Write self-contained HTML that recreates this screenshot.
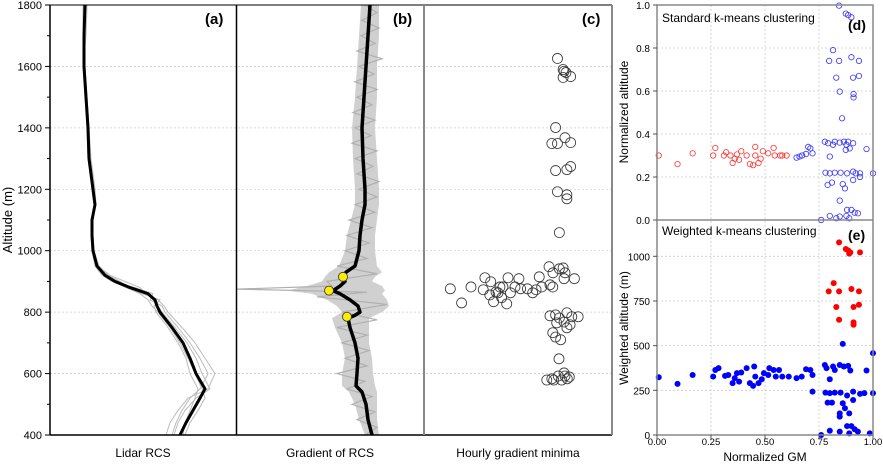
<!DOCTYPE html>
<html><head><meta charset="utf-8">
<style>
body{margin:0;background:#fff;}
svg{display:block;font-family:"Liberation Sans",Arial,sans-serif;}
</style></head>
<body>
<svg id="c" width="883" height="464" viewBox="0 0 883 464" xmlns="http://www.w3.org/2000/svg"></svg>
<script>
// ---------- data ----------
const altA=[1800,1700,1600,1500,1400,1300,1200,1150,1100,1050,1000,950,920,900,880,860,840,820,800,750,700,650,600,550,520,480,440,400];
const rcsMean=[35,34,34,36,38,39,43,45,42,42,43,47,55,65,80,98,105,107,110,122,133,140,146,155,150,143,136,130];
const rcsG1=[33,33,35,37,39,41,45,46,41,41,42,45,52,62,85,103,100,112,115,128,140,150,158,150,140,132,126,122];
const rcsG2=[37,36,33,35,37,38,42,44,43,43,44,49,58,70,78,92,110,104,106,118,128,136,140,148,145,140,135,133];
const rcsG3=[34,35,35,37,39,40,44,46,42,42,43,46,54,66,82,100,103,108,112,125,137,146,152,160,146,135,128,124];
const rcsG4=[36,34,34,35,38,39,42,44,43,42,44,48,60,75,90,96,108,114,118,132,145,155,165,158,138,128,120,116];
const rcsG5=[35,35,34,36,37,38,43,45,41,42,43,46,53,63,76,90,98,102,108,120,130,138,145,152,155,148,140,135];
const altB=[1800,1700,1600,1500,1400,1300,1200,1150,1100,1050,1000,950,930,915,900,885,870,860,840,820,800,790,780,750,700,650,600,560,540,500,450,400];
const gradMean=[133,131,129,127,125,126,128,128,125,123,122,118,109,106,108,103,96,103,113,121,123,118,111,113,118,121,120,119,125,129,131,135];
const bandLo=[124,122,120,118,115,116,118,118,114,110,108,102,92,88,85,70,50,75,90,100,105,100,95,98,105,108,105,105,112,118,122,128];
const bandHi=[142,142,140,140,138,140,142,142,140,138,138,140,145,138,135,145,148,145,150,152,145,138,132,132,132,135,136,138,140,140,140,142];
const altG=[1800,1775,1750,1725,1700,1675,1650,1625,1600,1575,1550,1525,1500,1475,1450,1425,1400,1375,1350,1325,1300,1275,1250,1225,1200,1175,1150,1125,1100,1075,1050,1025,1000,975,950,925,900,885,875,865,850,825,800,775,750,725,700,675,650,625,600,575,550,525,500,475,450,425,400];
const gradNoise=[128,140,125,142,124,138,120,145,122,137,118,140,120,135,116,138,118,134,115,140,118,136,120,142,122,140,118,138,112,135,110,132,108,130,100,140,90,95,0,130,80,150,105,140,100,130,105,132,108,130,100,128,110,135,115,138,120,140,128];
const minAlt=[915,870,785];
const minVal=[106,92,110];
const hX=[71,74,74.5,75.5,74,78,70,68,71,75,78,70,76,78,71,76,76,72,66.5,68.6,72,74,75,80,74.5,67,68.5,14,20,25,32.4,31.5,35.5,37,40.4,39.4,44.7,42,41.3,44,46,48.4,50.5,51.4,55,57.8,59.6,62.6,61.3,38.3,35,67,70,76,78.6,82,70.6,74.5,77.7,76,68.5,70,72.7,72,71.8,74.5,77.3,76.2,68,65.3,69,73.2,71.4,75];
const hAlt=[1626,1590,1584,1580,1564,1567,1401,1349,1349,1368,1352,1261,1264,1274,1192,1182,1169,1059,948,928,941,944,928,909,909,889,882,876,830,882,912,873,899,834,882,863,912,882,847,827,863,882,909,876,876,863,873,882,915,866,856,788,791,798,785,785,765,768,759,749,733,719,710,781,648,602,589,583,583,579,579,579,592,592];
const dRedX=[.008,.095,.165,.26,.27,.31,.32,.34,.35,.36,.37,.38,.39,.415,.43,.445,.455,.455,.47,.48,.49,.515,.54,.545,.57,.58,.60];
const dRedY=[.30,.26,.31,.30,.335,.30,.315,.30,.265,.285,.305,.28,.32,.30,.26,.255,.34,.30,.265,.285,.32,.31,.335,.30,.30,.30,.30];
const dBlueX=[.646,.66,.672,.69,.70,.71,.72,.777,.792,.80,.815,.823,.846,.865,.877,.885,.874,.892,.908,.97,.78,.80,.823,.85,.88,.908,.92,.94,1.0,.79,.81,.86,.87,.908,.94,.846,.76,.8,.846,.877,.88,.9,.915,.93,.89,.83,.815,.797,.843,.9,.935,.83,.908,.935,.846,.91,.91,.857,.843,.874,.885,.9];
const dBlueY=[.29,.295,.30,.307,.34,.333,.31,.364,.357,.295,.35,.364,.36,.364,.35,.364,.326,.333,.357,.33,.22,.217,.22,.22,.217,.225,.217,.217,.217,.163,.174,.167,.147,.186,.2,.09,0,.019,.016,.019,.047,.047,.034,.031,.008,.008,.79,.74,.74,.757,.74,.662,.662,.67,.597,.586,.57,.473,.997,.96,.953,.943];
const eRedX=[.843,.874,.885,.895,.89,.94,.818,.795,.843,.9,.935,.83,.91,.935,.843,.91,.91];
const eRedY=[1078,1041,1033,1022,1015,1022,850,804,804,817,804,716,716,729,645,630,617];
const eBlueX=[.008,.095,.165,.26,.27,.285,.315,.33,.35,.36,.37,.38,.39,.415,.43,.445,.45,.455,.47,.485,.495,.515,.52,.54,.55,.565,.58,.61,.646,.67,.69,.71,.72,.72,.777,.80,.785,.815,.823,.846,.865,.885,.895,.86,.97,1.0,.78,.8,.823,.85,.88,.908,.94,.96,1.0,.79,.81,.86,.87,.908,.846,.846,.89,.76,.8,.846,.88,.9,.915,.93,.89,.985];
const eBlueY=[323,286,336,327,364,374,331,336,290,318,346,299,350,374,290,275,383,327,290,312,346,336,374,364,327,364,327,327,318,327,368,364,336,243,392,312,374,383,364,392,383,387,361,510,361,458,237,234,237,237,221,243,230,234,234,181,181,178,150,196,103,121,121,0,24,19,50,50,32,19,9,9];
const yTicksL=[400,600,800,1000,1200,1400,1600,1800];
const yTicksD=["0.0","0.2","0.4","0.6","0.8","1.0"];
const yTicksE=[0,250,500,750,1000];
const xTicksDE=["0.00","0.25","0.50","0.75","1.00"];

// ---------- helpers ----------
const svg=document.getElementById('c');
const NS='http://www.w3.org/2000/svg';
function mk(tag,attrs,parent){const e=document.createElementNS(NS,tag);for(const k in attrs)e.setAttribute(k,attrs[k]);(parent||svg).appendChild(e);return e;}
function txt(s,x,y,attrs){const e=mk('text',Object.assign({x:x,y:y},attrs||{}));e.textContent=s;return e;}

const yL=a=>435-(a-400)*(430/1400);
const xA=v=>50+v, xB=v=>237+v, xC=p=>424+p*1.88;
const xR=v=>657+v*216;
const yD=v=>220-v*215;
const yE=v=>435-v*0.1787;

for(const t of yTicksL){ if(t===400||t===1800)continue;
 const g=mk('line',{x1:50,x2:612,y1:yL(t),y2:yL(t),stroke:'#ccc','stroke-dasharray':'2,2','stroke-width':0.8});
 
 
}
[rcsG1,rcsG2,rcsG3,rcsG4,rcsG5].forEach((arr,i)=>{
 const p=mk('polyline',{points:arr.map((v,j)=>xA(v)+','+yL(altA[j])).join(' '),fill:'none',stroke:'#bbb','stroke-width':1});
 
 
});
const pm=mk('polyline',{points:rcsMean.map((v,j)=>xA(v)+','+yL(altA[j])).join(' '),fill:'none',stroke:'#000','stroke-width':3,'stroke-linejoin':'round'});


// panel b band
const bandPts=bandLo.map((v,j)=>xB(v)+','+yL(altB[j])).concat(bandHi.map((v,j)=>xB(v)+','+yL(altB[j])).reverse()).join(' ');
const band=mk('polygon',{points:bandPts,fill:'#d0d0d0',stroke:'none'});


const gn=mk('polyline',{points:gradNoise.map((v,j)=>xB(v)+','+yL(altG[j])).join(' '),fill:'none',stroke:'#b0b0b0','stroke-width':1.2});


const gm=mk('polyline',{points:gradMean.map((v,j)=>xB(v)+','+yL(altB[j])).join(' '),fill:'none',stroke:'#000','stroke-width':3.5,'stroke-linejoin':'round'});


minAlt.forEach((a,i)=>{
 const c=mk('circle',{cx:xB(minVal[i]),cy:yL(a),r:4.5,fill:'#ffee00',stroke:'#333','stroke-width':0.8});
 
 
});
hX.forEach((x,i)=>{
 const c=mk('circle',{cx:xC(x),cy:yL(hAlt[i]),r:5,fill:'none',stroke:'#333','stroke-width':0.8});
 
 
});
const fr=mk('g',{});


mk('line',{x1:50,x2:50,y1:5,y2:435,stroke:'#000','stroke-width':1.5},fr);
mk('line',{x1:50,x2:612,y1:435,y2:435,stroke:'#000','stroke-width':1.5},fr);
mk('line',{x1:50,x2:612,y1:5,y2:5,stroke:'#000','stroke-width':1},fr);
mk('line',{x1:236.5,x2:236.5,y1:5,y2:435,stroke:'#000','stroke-width':1.5},fr);
mk('line',{x1:424,x2:424,y1:5,y2:435,stroke:'#888','stroke-width':2},fr);
mk('line',{x1:612,x2:612,y1:5,y2:435,stroke:'#888','stroke-width':2},fr);
for(let a=400;a<=1800;a+=100){
 mk('line',{x1:50,x2:a%200===0?45:47,y1:yL(a),y2:yL(a),stroke:'#000','stroke-width':1});
}
yTicksL.forEach(t=>{
 const e=txt(String(t),42,yL(t)+4,{'font-size':11,'text-anchor':'end',fill:'#000'});
 
 
});
let e=txt('Altitude (m)',0,0,{'font-size':13,'text-anchor':'middle',transform:'translate(12,220) rotate(-90)'});


[['(a)',205],['(b)',393],['(c)',582]].forEach(([s,x])=>{
 const t=txt(s,x,24,{'font-size':15,'font-weight':'bold'});
 
 
});
[['Lidar RCS',143],['Gradient of RCS',330],['Hourly gradient minima',518]].forEach(([s,x])=>{
 const t=txt(s,x,457,{'font-size':12,'text-anchor':'middle'});
 
 
});

[0.25,0.5,0.75].forEach(v=>{
 mk('line',{x1:xR(v),x2:xR(v),y1:5,y2:435,stroke:'#ccc','stroke-dasharray':'2,2','stroke-width':0.8});
});
yTicksD.forEach(t=>{const v=+t; if(v>0&&v<1) mk('line',{x1:657,x2:873,y1:yD(v),y2:yD(v),stroke:'#ccc','stroke-dasharray':'2,2','stroke-width':0.8});});
yTicksE.forEach(v=>{ if(v>0) mk('line',{x1:657,x2:873,y1:yE(v),y2:yE(v),stroke:'#ccc','stroke-dasharray':'2,2','stroke-width':0.8});});
dRedX.forEach((x,i)=>{
 const c=mk('circle',{cx:xR(x),cy:yD(dRedY[i]),r:2.7,fill:'none',stroke:'#f33','stroke-width':0.8});
 
 
});
dBlueX.forEach((x,i)=>{
 const c=mk('circle',{cx:xR(x),cy:yD(dBlueY[i]),r:2.7,fill:'none',stroke:'#33f','stroke-width':0.8});
 
 
});
eRedX.forEach((x,i)=>{
 const c=mk('circle',{cx:xR(x),cy:yE(eRedY[i]),r:3,fill:'#f00'});
 
 
});
eBlueX.forEach((x,i)=>{
 const c=mk('circle',{cx:xR(x),cy:yE(eBlueY[i]),r:3,fill:'#00f'});
 
 
});
const rf=mk('g',{});


mk('rect',{x:657,y:5,width:216,height:430,fill:'none',stroke:'#888','stroke-width':1.5},rf);
mk('line',{x1:657,x2:873,y1:220,y2:220,stroke:'#888','stroke-width':1.5},rf);
yTicksD.forEach(t=>{
 mk('line',{x1:657,x2:653,y1:yD(+t),y2:yD(+t),stroke:'#555'});
 const l=txt(t,650,yD(+t)+4,{'font-size':10,'text-anchor':'end'});
 
 
});
yTicksE.forEach(t=>{
 mk('line',{x1:657,x2:653,y1:yE(t),y2:yE(t),stroke:'#555'});
 const l=txt(String(t),650,yE(t)+4,{'font-size':10,'text-anchor':'end'});
 
 
});
xTicksDE.forEach(t=>{
 mk('line',{x1:xR(+t),x2:xR(+t),y1:435,y2:439,stroke:'#555'});
 const l=txt(t,xR(+t),445,{'font-size':9.5,'text-anchor':'middle'});
 
 
});
e=txt('Normalized GM',765,461,{'font-size':12,'text-anchor':'middle'});


e=txt('Normalized altitude',0,0,{'font-size':12,'text-anchor':'middle',transform:'translate(628,112) rotate(-90)'});


e=txt('Weighted altitude (m)',0,0,{'font-size':12,'text-anchor':'middle',transform:'translate(628,328) rotate(-90)'});


e=txt('Standard k-means clustering',662,22,{'font-size':12});


e=txt('Weighted k-means clustering',662,235,{'font-size':12});


e=txt('(d)',848,30,{'font-size':14,'font-weight':'bold'});


e=txt('(e)',848,240,{'font-size':14,'font-weight':'bold'});


</script>
</body></html>
